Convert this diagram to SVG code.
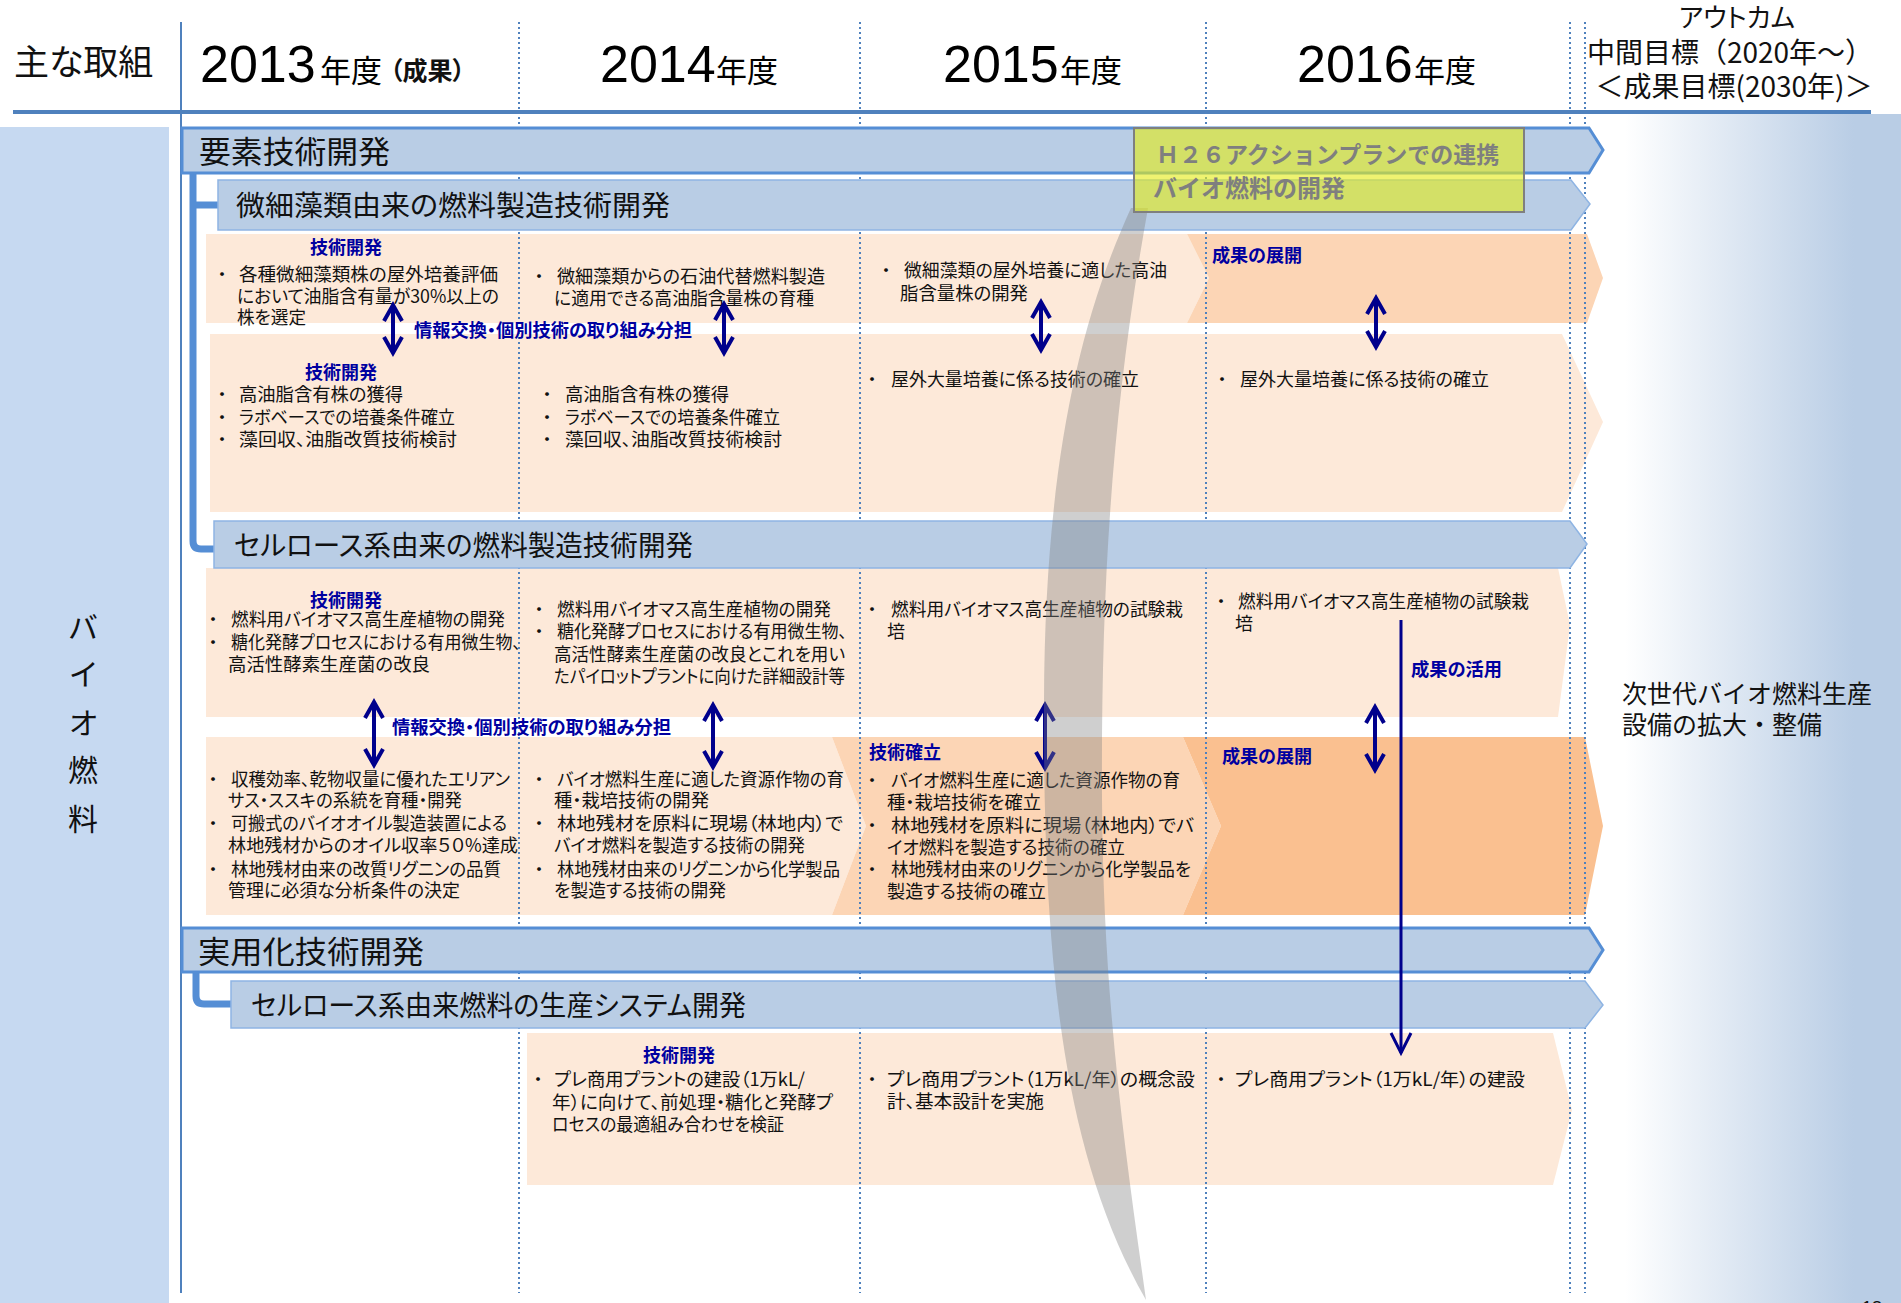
<svg xmlns="http://www.w3.org/2000/svg" width="1901" height="1303" viewBox="0 0 1901 1303">
<style>
text{font-family:"Noto Sans CJK JP","Noto Sans",sans-serif;fill:#111;font-feature-settings:"palt";}
.t{font-size:18px;}
.lb{font-size:18px;font-weight:bold;fill:#0000A0;}
.bt{font-size:28px;fill:#111;}
.bt1{font-size:31px;fill:#111;}
.hd{font-size:31px;fill:#000;}
.yr{font-family:"Liberation Sans",Arial,sans-serif;font-size:52px;fill:#000;}
.lt{fill:#FDE9D9;}
.md{fill:#FCD5B5;}
.dk{fill:#FAC090;}
.bar1{fill:#B9CDE5;stroke:#558ED5;stroke-width:3;}
.bar2{fill:#B9CDE5;stroke:#8EB4E3;stroke-width:1.5;}
.dot{stroke:#4F81BD;stroke-width:2;stroke-dasharray:2 3;fill:none;}
.dbl{stroke:#00008C;stroke-width:4;fill:none;marker-start:url(#ah);marker-end:url(#ah);}
.brk{stroke:#558ED5;stroke-width:7;fill:none;stroke-linejoin:round;}
</style>
<defs>
<linearGradient id="og" gradientUnits="userSpaceOnUse" x1="1587" y1="0" x2="1901" y2="0">
<stop offset="0.12" stop-color="#FFFFFF"/>
<stop offset="0.85" stop-color="#B9CDE5"/>
</linearGradient>
<marker id="ah" viewBox="0 0 20 20" refX="18" refY="10" markerWidth="20" markerHeight="20" markerUnits="userSpaceOnUse" orient="auto-start-reverse" overflow="visible">
<path d="M2,1 L18,10 L2,19" fill="none" stroke="#00008C" stroke-width="4"/>
</marker>
<marker id="ah2" viewBox="0 0 22 22" refX="21" refY="11" markerWidth="22" markerHeight="22" markerUnits="userSpaceOnUse" orient="auto" overflow="visible">
<path d="M1,1 L21,11 L1,21" fill="none" stroke="#00008C" stroke-width="3"/>
</marker>
</defs>
<rect width="1901" height="1303" fill="#FFFFFF"/>

<g id="left-panel">
<rect x="0" y="127" width="169" height="1176" fill="#C6D9F1"/>
<text font-size="30" text-anchor="middle"><tspan x="83" y="638">バ</tspan><tspan x="83" y="685">イ</tspan><tspan x="83" y="734">オ</tspan><tspan x="83" y="781">燃</tspan><tspan x="83" y="830">料</tspan></text>
</g>

<g id="outcome-panel">
<rect x="1587" y="114" width="314" height="1189" fill="url(#og)"/>
<text font-size="25" style="font-feature-settings:normal"><tspan x="1622" y="703">次世代バイオ燃料生産</tspan><tspan x="1622" y="734">設備の拡大・整備</tspan></text>
</g>

<g id="cells">
<polygon class="lt" points="206,234 1187,234 1209,278 1187,323 206,323"/>
<polygon class="md" points="1187,234 1587,234 1603,278 1587,323 1187,323 1209,278"/>
<polygon class="lt" points="210,334 1562,334 1603,422 1562,512 210,512"/>
<polygon class="lt" points="206,568 1558,568 1570,625 1558,717 206,717"/>
<polygon class="lt" points="206,737 832,737 866,826 832,915 206,915"/>
<polygon class="md" points="832,737 1183,737 1221,826 1183,915 832,915 866,826"/>
<polygon class="dk" points="1183,737 1585,737 1603,826 1585,915 1183,915 1221,826"/>
<polygon class="lt" points="527,1033 1553,1033 1572,1110 1553,1185 527,1185"/>
</g>

<g id="grid">
<line x1="13" y1="112" x2="1871" y2="112" stroke="#4F81BD" stroke-width="4"/>
<line x1="181" y1="22" x2="181" y2="1293" stroke="#4F81BD" stroke-width="2"/>
<line class="dot" x1="519" y1="22" x2="519" y2="1293"/>
<line class="dot" x1="860" y1="22" x2="860" y2="1293"/>
<line class="dot" x1="1206" y1="22" x2="1206" y2="1293"/>
<line class="dot" x1="1570" y1="22" x2="1570" y2="1293"/>
<line class="dot" x1="1585" y1="22" x2="1585" y2="1293"/>
</g>

<g id="header">
<text x="14" y="75" font-size="35">主な取組</text>
<text class="yr" x="200" y="82">2013</text>
<text class="hd" x="320" y="82">年度</text>
<text x="390" y="80" font-size="25" font-weight="bold">（成果）</text>
<text class="yr" x="600" y="82">2014</text>
<text class="hd" x="716" y="82">年度</text>
<text class="yr" x="943" y="82">2015</text>
<text class="hd" x="1060" y="82">年度</text>
<text class="yr" x="1297" y="82">2016</text>
<text class="hd" x="1414" y="82">年度</text>
<text text-anchor="middle"><tspan x="1737" y="27" font-size="26">アウトカム</tspan><tspan x="1730" y="63" font-size="28" style="font-feature-settings:normal">中間目標（2020年～）</tspan><tspan x="1734" y="97" font-size="28" style="font-feature-settings:normal">＜成果目標(2030年)＞</tspan></text>
</g>

<g id="connectors">
<path class="brk" d="M193,173 V541 Q193,549 201,549 H216"/>
<path class="brk" d="M193,205 H219"/>
<path class="brk" d="M196,972 V996 Q196,1004 204,1004 H232"/>
</g>

<g id="bar-yoso">
<polygon class="bar1" points="182,128 1589,128 1603,150 1589,173 182,173"/>
<text class="bt1" x="199" y="163" textLength="191" lengthAdjust="spacingAndGlyphs">要素技術開発</text>
</g>
<g id="bar-bisai">
<polygon class="bar2" points="218,180 1571,180 1590,204 1571,230 218,230"/>
<text class="bt" x="236" y="216" textLength="434" lengthAdjust="spacingAndGlyphs">微細藻類由来の燃料製造技術開発</text>
</g>
<g id="bar-cellulose">
<polygon class="bar2" points="214,521 1570,521 1587,544 1570,568 214,568"/>
<text class="bt" x="234" y="556" textLength="459" lengthAdjust="spacingAndGlyphs">セルロース系由来の燃料製造技術開発</text>
</g>
<g id="bar-jitsuyo">
<polygon class="bar1" points="182,928 1589,928 1603,950 1589,972 182,972"/>
<text class="bt1" x="198" y="963" textLength="226" lengthAdjust="spacingAndGlyphs">実用化技術開発</text>
</g>
<g id="bar-system">
<polygon class="bar2" points="231,981 1585,981 1603,1005 1585,1028 231,1028"/>
<text class="bt" x="251" y="1016" textLength="495" lengthAdjust="spacingAndGlyphs">セルロース系由来燃料の生産システム開発</text>
</g>

<g id="rowA-2013">
<text class="t"><tspan class="lb" x="346" y="254" text-anchor="middle">技術開発</tspan><tspan x="222" y="281" text-anchor="middle">・</tspan><tspan x="239" y="281" textLength="259" lengthAdjust="spacingAndGlyphs">各種微細藻類株の屋外培養評価</tspan><tspan x="237" y="303" textLength="262" lengthAdjust="spacingAndGlyphs">において油脂含有量が30%以上の</tspan><tspan x="237" y="324" textLength="69" lengthAdjust="spacingAndGlyphs">株を選定</tspan></text>
</g>
<g id="rowA-2014">
<text class="t"><tspan x="539" y="283" text-anchor="middle">・</tspan><tspan x="557" y="283" textLength="268" lengthAdjust="spacingAndGlyphs">微細藻類からの石油代替燃料製造</tspan><tspan x="554" y="305" textLength="260" lengthAdjust="spacingAndGlyphs">に適用できる高油脂含量株の育種</tspan></text>
</g>
<g id="rowA-2015">
<text class="t"><tspan x="886" y="277" text-anchor="middle">・</tspan><tspan x="904" y="277" textLength="263" lengthAdjust="spacingAndGlyphs">微細藻類の屋外培養に適した高油</tspan><tspan x="900" y="300" textLength="128" lengthAdjust="spacingAndGlyphs">脂含量株の開発</tspan></text>
</g>
<g id="rowA-2016">
<text class="lb" x="1212" y="262" textLength="90" lengthAdjust="spacingAndGlyphs">成果の展開</text>
</g>

<g id="rowB-2013">
<text class="t"><tspan class="lb" x="341" y="379" text-anchor="middle">技術開発</tspan><tspan x="222" y="401" text-anchor="middle">・</tspan><tspan x="239" y="401" textLength="164" lengthAdjust="spacingAndGlyphs">高油脂含有株の獲得</tspan><tspan x="222" y="424" text-anchor="middle">・</tspan><tspan x="239" y="424" textLength="216" lengthAdjust="spacingAndGlyphs">ラボベースでの培養条件確立</tspan><tspan x="222" y="446" text-anchor="middle">・</tspan><tspan x="239" y="446" textLength="218" lengthAdjust="spacingAndGlyphs">藻回収、油脂改質技術検討</tspan></text>
</g>
<g id="rowB-2014">
<text class="t"><tspan x="547" y="401" text-anchor="middle">・</tspan><tspan x="565" y="401" textLength="164" lengthAdjust="spacingAndGlyphs">高油脂含有株の獲得</tspan><tspan x="547" y="424" text-anchor="middle">・</tspan><tspan x="565" y="424" textLength="215" lengthAdjust="spacingAndGlyphs">ラボベースでの培養条件確立</tspan><tspan x="547" y="446" text-anchor="middle">・</tspan><tspan x="565" y="446" textLength="217" lengthAdjust="spacingAndGlyphs">藻回収、油脂改質技術検討</tspan></text>
</g>
<g id="rowB-2015">
<text class="t"><tspan x="872" y="386" text-anchor="middle">・</tspan><tspan x="891" y="386" textLength="248" lengthAdjust="spacingAndGlyphs">屋外大量培養に係る技術の確立</tspan></text>
</g>
<g id="rowB-2016">
<text class="t"><tspan x="1222" y="386" text-anchor="middle">・</tspan><tspan x="1240" y="386" textLength="249" lengthAdjust="spacingAndGlyphs">屋外大量培養に係る技術の確立</tspan></text>
</g>
<g id="label-joho-1">
<text class="lb" x="414" y="337" textLength="278" lengthAdjust="spacingAndGlyphs">情報交換・個別技術の取り組み分担</text>
</g>

<g id="rowC-2013">
<text class="t"><tspan class="lb" x="346" y="607" text-anchor="middle">技術開発</tspan><tspan x="213" y="626" text-anchor="middle">・</tspan><tspan x="231" y="626" textLength="274" lengthAdjust="spacingAndGlyphs">燃料用バイオマス高生産植物の開発</tspan><tspan x="213" y="649" text-anchor="middle">・</tspan><tspan x="231" y="649" textLength="290" lengthAdjust="spacingAndGlyphs">糖化発酵プロセスにおける有用微生物、</tspan><tspan x="228" y="671" textLength="202" lengthAdjust="spacingAndGlyphs">高活性酵素生産菌の改良</tspan></text>
</g>
<g id="rowC-2014">
<text class="t"><tspan x="539" y="616" text-anchor="middle">・</tspan><tspan x="557" y="616" textLength="274" lengthAdjust="spacingAndGlyphs">燃料用バイオマス高生産植物の開発</tspan><tspan x="539" y="638" text-anchor="middle">・</tspan><tspan x="557" y="638" textLength="290" lengthAdjust="spacingAndGlyphs">糖化発酵プロセスにおける有用微生物、</tspan><tspan x="554" y="661" textLength="291" lengthAdjust="spacingAndGlyphs">高活性酵素生産菌の改良とこれを用い</tspan><tspan x="554" y="683" textLength="291" lengthAdjust="spacingAndGlyphs">たパイロットプラントに向けた詳細設計等</tspan></text>
</g>
<g id="rowC-2015">
<text class="t"><tspan x="872" y="616" text-anchor="middle">・</tspan><tspan x="891" y="616" textLength="292" lengthAdjust="spacingAndGlyphs">燃料用バイオマス高生産植物の試験栽</tspan><tspan x="887" y="638">培</tspan></text>
</g>
<g id="rowC-2016">
<text class="t"><tspan x="1221" y="608" text-anchor="middle">・</tspan><tspan x="1238" y="608" textLength="291" lengthAdjust="spacingAndGlyphs">燃料用バイオマス高生産植物の試験栽</tspan><tspan x="1235" y="630">培</tspan></text>
<text class="lb" x="1411" y="676" textLength="91" lengthAdjust="spacingAndGlyphs">成果の活用</text>
</g>
<g id="label-joho-2">
<text class="lb" x="392" y="734" textLength="279" lengthAdjust="spacingAndGlyphs">情報交換・個別技術の取り組み分担</text>
</g>

<g id="rowD-2013">
<text class="t"><tspan x="213" y="786" text-anchor="middle">・</tspan><tspan x="231" y="786" textLength="279" lengthAdjust="spacingAndGlyphs">収穫効率、乾物収量に優れたエリアン</tspan><tspan x="228" y="807" textLength="234" lengthAdjust="spacingAndGlyphs">サス・ススキの系統を育種・開発</tspan><tspan x="213" y="830" text-anchor="middle">・</tspan><tspan x="231" y="830" textLength="276" lengthAdjust="spacingAndGlyphs">可搬式のバイオオイル製造装置による</tspan><tspan x="228" y="852" textLength="290" lengthAdjust="spacingAndGlyphs">林地残材からのオイル収率５０%達成</tspan><tspan x="213" y="876" text-anchor="middle">・</tspan><tspan x="231" y="876" textLength="270" lengthAdjust="spacingAndGlyphs">林地残材由来の改質リグニンの品質</tspan><tspan x="228" y="897" textLength="232" lengthAdjust="spacingAndGlyphs">管理に必須な分析条件の決定</tspan></text>
</g>
<g id="rowD-2014">
<text class="t"><tspan x="539" y="786" text-anchor="middle">・</tspan><tspan x="557" y="786" textLength="287" lengthAdjust="spacingAndGlyphs">バイオ燃料生産に適した資源作物の育</tspan><tspan x="554" y="807" textLength="155" lengthAdjust="spacingAndGlyphs">種・栽培技術の開発</tspan><tspan x="539" y="830" text-anchor="middle">・</tspan><tspan x="557" y="830" textLength="286" lengthAdjust="spacingAndGlyphs">林地残材を原料に現場（林地内）で</tspan><tspan x="554" y="852" textLength="251" lengthAdjust="spacingAndGlyphs">バイオ燃料を製造する技術の開発</tspan><tspan x="539" y="876" text-anchor="middle">・</tspan><tspan x="557" y="876" textLength="283" lengthAdjust="spacingAndGlyphs">林地残材由来のリグニンから化学製品</tspan><tspan x="554" y="897" textLength="172" lengthAdjust="spacingAndGlyphs">を製造する技術の開発</tspan></text>
</g>
<g id="rowD-2015">
<text class="t"><tspan class="lb" x="869" y="759">技術確立</tspan><tspan x="872" y="787" text-anchor="middle">・</tspan><tspan x="891" y="787" textLength="289" lengthAdjust="spacingAndGlyphs">バイオ燃料生産に適した資源作物の育</tspan><tspan x="887" y="809" textLength="154" lengthAdjust="spacingAndGlyphs">種・栽培技術を確立</tspan><tspan x="872" y="832" text-anchor="middle">・</tspan><tspan x="891" y="832" textLength="303" lengthAdjust="spacingAndGlyphs">林地残材を原料に現場（林地内）でバ</tspan><tspan x="887" y="854" textLength="238" lengthAdjust="spacingAndGlyphs">イオ燃料を製造する技術の確立</tspan><tspan x="872" y="876" text-anchor="middle">・</tspan><tspan x="891" y="876" textLength="300" lengthAdjust="spacingAndGlyphs">林地残材由来のリグニンから化学製品を</tspan><tspan x="887" y="898" textLength="159" lengthAdjust="spacingAndGlyphs">製造する技術の確立</tspan></text>
</g>
<g id="rowD-2016">
<text class="lb" x="1222" y="763" textLength="90" lengthAdjust="spacingAndGlyphs">成果の展開</text>
</g>

<g id="rowE-2014">
<text class="t"><tspan class="lb" x="679" y="1062" text-anchor="middle">技術開発</tspan><tspan x="538" y="1086" text-anchor="middle">・</tspan><tspan x="554" y="1086" textLength="251" lengthAdjust="spacingAndGlyphs">プレ商用プラントの建設（1万kL/</tspan><tspan x="552" y="1109" textLength="281" lengthAdjust="spacingAndGlyphs">年）に向けて、前処理・糖化と発酵プ</tspan><tspan x="552" y="1131" textLength="232" lengthAdjust="spacingAndGlyphs">ロセスの最適組み合わせを検証</tspan></text>
</g>
<g id="rowE-2015">
<text class="t"><tspan x="872" y="1086" text-anchor="middle">・</tspan><tspan x="887" y="1086" textLength="308" lengthAdjust="spacingAndGlyphs">プレ商用プラント（1万kL/年）の概念設</tspan><tspan x="887" y="1108" textLength="157" lengthAdjust="spacingAndGlyphs">計、基本設計を実施</tspan></text>
</g>
<g id="rowE-2016">
<text class="t"><tspan x="1221" y="1086" text-anchor="middle">・</tspan><tspan x="1235" y="1086" textLength="290" lengthAdjust="spacingAndGlyphs">プレ商用プラント（1万kL/年）の建設</tspan></text>
</g>

<g id="arrows">
<line class="dbl" x1="393" y1="305" x2="393" y2="353"/>
<line class="dbl" x1="724" y1="304" x2="724" y2="353"/>
<line class="dbl" x1="1041" y1="302" x2="1041" y2="350"/>
<line class="dbl" x1="1376" y1="298" x2="1376" y2="347"/>
<line class="dbl" x1="374" y1="702" x2="374" y2="765"/>
<line class="dbl" x1="713" y1="705" x2="713" y2="767"/>
<line class="dbl" x1="1045" y1="705" x2="1045" y2="768"/>
<line class="dbl" x1="1375" y1="707" x2="1375" y2="770"/>
<line x1="1401" y1="620" x2="1401" y2="1053" stroke="#00008C" stroke-width="3" marker-end="url(#ah2)"/>
</g>

<g id="band">
<path d="M1131,208 C1075,330 1045,480 1044,700 C1043,950 1060,1150 1146,1300 C1125,1150 1103,1000 1102,800 C1101,600 1110,420 1148,208 Z" fill="#808080" fill-opacity="0.38"/>
</g>

<g id="h26-box">
<rect x="1134" y="128" width="390" height="84" fill="#E4EC1A" fill-opacity="0.62" stroke="#7F7F7F" stroke-width="2"/>
<text font-weight="bold" style="fill:#7F7F7F;font-feature-settings:normal"><tspan x="1156" y="163" font-size="23">Ｈ２６アクションプランでの連携</tspan><tspan x="1153" y="197" font-size="24">バイオ燃料の開発</tspan></text>
</g>

<g id="page-number">
<text x="1862" y="1314" font-size="18" style="font-family:'Liberation Sans',Arial,sans-serif">18</text>
</g>
</svg>
